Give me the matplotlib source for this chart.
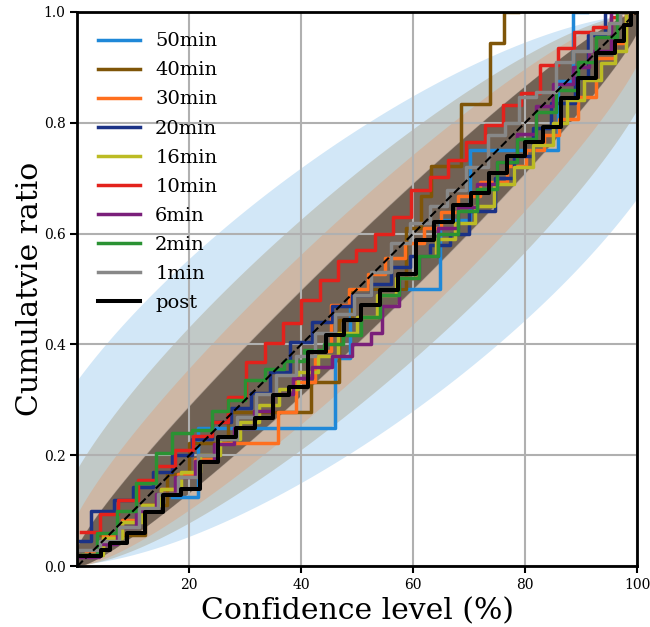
import numpy as np
import matplotlib.pyplot as plt

plt.rcParams['font.family'] = 'DejaVu Serif'

labels = ['50min', '40min', '30min', '20min', '16min', '10min', '6min', '2min', '1min', 'post']
colors = ['#1f88d8', '#7f5508', '#ff6f1e', '#1b3286', '#bcbb24', '#e3221c', '#7a1f7a', '#2a9233', '#888888', '#000000']
# number of events behind each curve (sets the width of its band)
n_events = [8, 18, 36, 96, 98, 100, 100, 100, 100, 100]

# confidence level (%) at each jump, and cumulative ratio after the jump
jump_x = {
  '50min': [17.0, 21.6, 46.0, 48.7, 64.8, 70.1, 85.8, 88.5],
  '40min': [4.0, 12.0, 16.0, 20.0, 27.0, 41.7, 46.8, 49.0, 58.75, 61.4, 63.2, 68.5, 73.8, 76.3],
  '30min': [1.5, 4.5, 8.0, 11.5, 15.0, 18.0, 21.0, 25.0, 35.8, 39.0, 42.5, 45.3, 48.6, 52.0, 55.0,
            58.5, 62.0, 65.0, 68.0, 72.0, 76.8, 80.1, 83.4, 86.1, 89.4, 92.7, 96.0, 98.0],
  '20min': [0.5, 2.4, 6.5, 10.0, 13.5, 17.0, 20.5, 24.0, 27.5, 31.0, 34.5, 38.0, 42.0, 45.5, 49.0,
            52.5, 56.0, 59.5, 63.0, 66.5, 70.0, 74.7, 78.0, 81.5, 84.6, 88.9, 91.2, 94.2],
  '16min': [1.0, 4.5, 8.0, 11.5, 15.0, 18.5, 22.0, 25.5, 29.0, 32.5, 36.0, 39.5, 43.0, 46.5, 50.0,
            53.5, 57.0, 60.5, 64.0, 67.5, 71.0, 74.5, 78.0, 81.5, 85.0, 87.5, 90.6, 93.5, 96.0, 98.0],
  '10min': [0.6, 4.0, 7.3, 10.8, 14.1, 17.4, 20.7, 24.0, 27.0, 30.2, 33.5, 36.7, 40.0, 43.3, 46.5,
            49.8, 53.1, 56.4, 59.7, 63.0, 66.2, 69.5, 72.8, 76.0, 79.2, 82.6, 85.8, 88.8, 92.1, 95.3, 97.0],
  '6min':  [0.5, 3.8, 7.0, 10.5, 14.0, 17.5, 21.0, 24.5, 28.0, 31.5, 35.0, 38.5, 42.0, 45.5, 49.0,
            52.5, 54.5, 57.5, 61.0, 64.5, 68.0, 71.5, 75.0, 78.5, 82.0, 85.0, 88.5, 91.5, 95.3],
  '2min':  [0.8, 3.5, 7.0, 10.5, 14.0, 17.0, 20.4, 24.0, 27.0, 30.0, 33.5, 37.0, 40.5, 44.0, 47.4,
            50.7, 54.0, 57.5, 61.0, 64.5, 68.0, 71.5, 75.0, 78.5, 82.0, 85.5, 89.5, 92.7, 96.5],
  '1min':  [0.5, 4.0, 7.5, 11.0, 14.5, 18.0, 21.5, 25.0, 28.5, 32.0, 35.5, 39.0, 42.5, 46.0, 49.5,
            52.5, 56.0, 59.5, 63.0, 66.0, 69.5, 73.3, 76.5, 79.0, 82.0, 85.5, 88.5, 91.7, 95.0, 97.0],
  'post':  [0.3, 4.2, 5.8, 8.8, 12.0, 15.3, 18.6, 21.9, 25.1, 28.4, 31.7, 34.9, 37.9, 41.2, 44.5,
            47.6, 50.7, 54.0, 57.3, 60.5, 63.8, 67.1, 70.4, 73.6, 76.8, 79.9, 83.2, 86.4, 89.4, 92.7,
            96.0, 97.7, 99.0],
}
jump_y = {
  '50min': [0.125, 0.25, 0.375, 0.5, 0.625, 0.75, 0.875, 1.0],
  '40min': [0.056, 0.111, 0.167, 0.222, 0.278, 0.333, 0.444, 0.5, 0.611, 0.667, 0.722, 0.833, 0.944, 1.0],
  '30min': [0.028, 0.056, 0.083, 0.111, 0.139, 0.167, 0.194, 0.222, 0.278, 0.333, 0.389, 0.472, 0.5, 0.528, 0.556,
            0.583, 0.611, 0.639, 0.667, 0.694, 0.722, 0.75, 0.778, 0.806, 0.847, 0.917, 0.944, 1.0],
  '20min': [0.045, 0.10, 0.12, 0.142, 0.17, 0.20, 0.23, 0.26, 0.285, 0.312, 0.35, 0.405, 0.441, 0.47, 0.49,
            0.51, 0.54, 0.56, 0.58, 0.60, 0.64, 0.70, 0.74, 0.79, 0.835, 0.88, 0.958, 1.0],
  '16min': [0.02, 0.05, 0.08, 0.11, 0.14, 0.17, 0.20, 0.23, 0.26, 0.29, 0.32, 0.35, 0.38, 0.42, 0.45,
            0.49, 0.52, 0.56, 0.59, 0.62, 0.65, 0.69, 0.72, 0.76, 0.80, 0.841, 0.877, 0.908, 0.93, 1.0],
  '10min': [0.062, 0.095, 0.12, 0.155, 0.18, 0.21, 0.235, 0.26, 0.306, 0.369, 0.402, 0.438, 0.48, 0.516, 0.55,
            0.57, 0.60, 0.63, 0.679, 0.703, 0.733, 0.766, 0.796, 0.832, 0.853, 0.904, 0.934, 0.964, 0.973, 0.99, 1.0],
  '6min':  [0.017, 0.04, 0.07, 0.10, 0.13, 0.16, 0.19, 0.22, 0.25, 0.28, 0.31, 0.34, 0.36, 0.38, 0.40,
            0.42, 0.47, 0.52, 0.56, 0.61, 0.648, 0.69, 0.73, 0.78, 0.83, 0.87, 0.90, 0.93, 1.0],
  '2min':  [0.02, 0.06, 0.10, 0.15, 0.205, 0.24, 0.245, 0.28, 0.30, 0.336, 0.355, 0.37, 0.39, 0.40, 0.417,
            0.45, 0.49, 0.52, 0.56, 0.60, 0.64, 0.68, 0.73, 0.77, 0.82, 0.86, 0.91, 0.955, 1.0],
  '1min':  [0.03, 0.045, 0.07, 0.105, 0.13, 0.16, 0.20, 0.23, 0.27, 0.31, 0.345, 0.38, 0.42, 0.455, 0.49,
            0.53, 0.583, 0.62, 0.65, 0.679, 0.72, 0.778, 0.80, 0.847, 0.855, 0.91, 0.93, 0.962, 0.98, 1.0],
  'post':  [0.018, 0.029, 0.041, 0.059, 0.097, 0.128, 0.140, 0.188, 0.233, 0.249, 0.267, 0.309, 0.324, 0.387, 0.417,
            0.444, 0.471, 0.498, 0.528, 0.588, 0.621, 0.652, 0.673, 0.709, 0.74, 0.766, 0.793, 0.844, 0.880, 0.925,
            0.947, 0.977, 1.0],
}


def beta_band(n, x, lo=0.025, hi=0.975):
  # 95% interval of a Beta(x n + 1, (1 - x) n + 1) distribution
  p = (np.arange(4000) + 0.5) / 4000
  lower, upper = [], []
  for xi in x:
    logpdf = xi * n * np.log(p) + (1 - xi) * n * np.log(1 - p)
    pdf = np.exp(logpdf - logpdf.max())
    cdf = np.cumsum(pdf)
    cdf /= cdf[-1]
    lower.append(np.interp(lo, cdf, p))
    upper.append(np.interp(hi, cdf, p))
  return np.array(lower), np.array(upper)


fig = plt.figure(figsize=(6.5, 6.27), dpi=100)
ax = fig.add_axes([0.119, 0.097, 0.861, 0.884])

grid_x = np.linspace(0, 1, 201)
for n, c in zip(n_events, colors):
  lower, upper = beta_band(n, grid_x)
  ax.fill_between(grid_x * 100, lower, upper, color=c, alpha=0.2, linewidth=0)

for lab, c in zip(labels, colors):
  # curve starts at the first jump and runs a little past the last one
  xs = np.r_[jump_x[lab], min(jump_x[lab][-1] + 2.5, 100)]
  ys = np.r_[jump_y[lab], jump_y[lab][-1]]
  lw = 2.9 if lab == 'post' else 2.5
  ax.step(xs, ys, where='post', color=c, lw=lw, label=lab)

ax.plot([0, 100], [0, 1], '--', color='k', lw=1.5, zorder=5)

ax.set_xlim(0, 100)
ax.set_ylim(0, 1)
ax.set_xticks([20, 40, 60, 80, 100])
ax.set_yticks([0, 0.2, 0.4, 0.6, 0.8, 1.0])
ax.grid(True, color='#b0b0b0', lw=1.5)
for s in ax.spines.values():
  s.set_linewidth(2)
ax.tick_params(width=1.5, length=5, labelsize=10)

ax.set_xlabel('Confidence level (%)', fontsize=21.5)
ax.set_ylabel('Cumulatvie ratio', fontsize=21.5, labelpad=0)

ax.legend(loc='upper left', frameon=False, fontsize=14, handlelength=2.15,
          handletextpad=0.8, labelspacing=0.57, borderaxespad=0.65)

fig.savefig('out.png', dpi=100)
